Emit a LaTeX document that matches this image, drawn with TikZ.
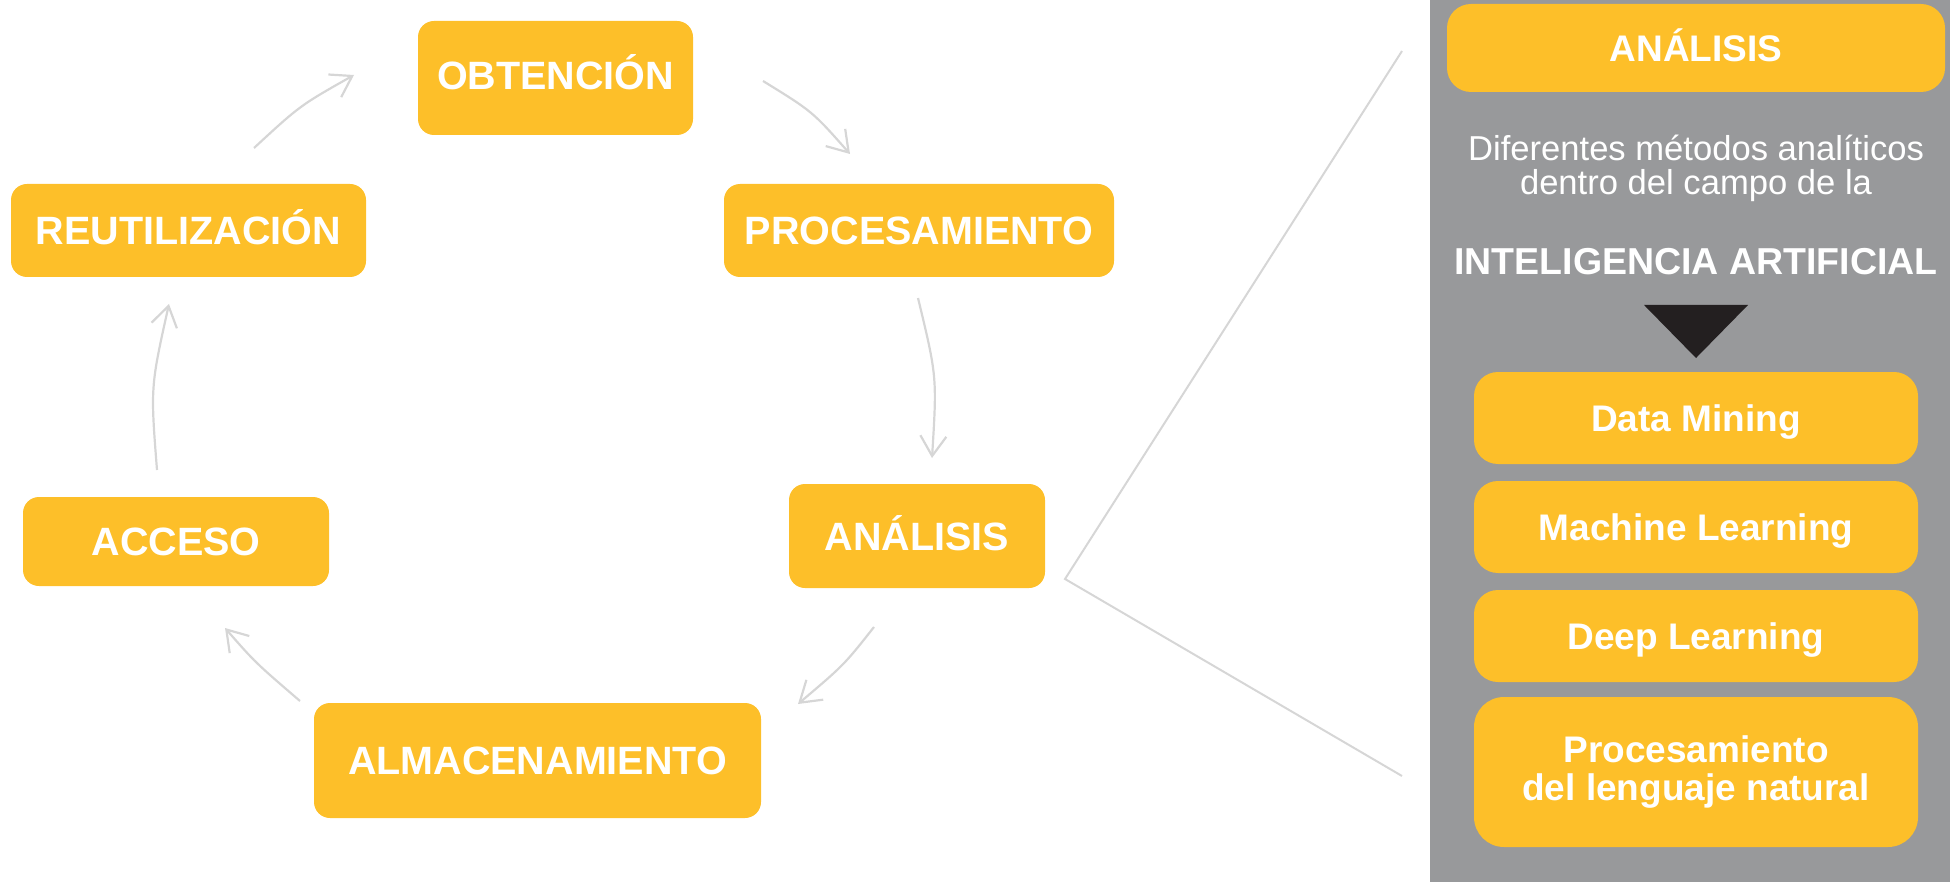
\documentclass[tikz,border=0pt]{standalone}
\usepackage{fontspec}
\setmainfont{Liberation Sans}
\usetikzlibrary{arrows.meta}
\definecolor{amber}{HTML}{FDBF29}
\definecolor{panelgray}{HTML}{98999B}
\definecolor{linegray}{HTML}{D6D6D6}
\definecolor{trifill}{HTML}{231F20}
\begin{document}
\begin{tikzpicture}[x=1pt,y=-1pt,
  stage/.style={fill=amber, rounded corners=16pt, inner sep=0pt, text=white,
    font=\fontsize{39.5}{40}\selectfont\bfseries, text height=28.5pt, text depth=0pt},
  item/.style={fill=amber, rounded corners=24pt, inner sep=0pt, text=white,
    font=\fontsize{37}{37.5}\selectfont\bfseries, minimum width=444pt, align=center},
  flow/.style={draw=linegray, line width=2.2pt, -{Straight Barb[length=20pt,width=26pt]}},
  bracket/.style={draw=linegray, line width=2pt}]
\useasboundingbox (0,0) rectangle (1950,882);
\fill[panelgray] (1430,0) rectangle (1950,882);

% cycle stages
\node[stage, minimum width=275pt, minimum height=114pt, text depth=6pt] (obt) at (555.5,78) {OBTENCIÓN};
\node[stage, minimum width=390pt, minimum height=93pt] (proc) at (919,230.5) {PROCESAMIENTO};
\node[stage, minimum width=256pt, minimum height=104pt] (anal) at (917,536) {ANÁLISIS};
\node[stage, minimum width=447pt, minimum height=115pt] (alm) at (537.5,760.5) {ALMACENAMIENTO};
\node[stage, minimum width=306pt, minimum height=89pt] (acc) at (176,541.5) {ACCESO};
\node[stage, minimum width=355pt, minimum height=93pt] (reut) at (188.5,230.5) {REUTILIZACIÓN};

% arrow end points
\coordinate (a1s) at (254,148);  \coordinate (a1e) at (354,75);
\coordinate (a2s) at (763,81);   \coordinate (a2e) at (850,154);
\coordinate (a3s) at (918,298);  \coordinate (a3e) at (932,458);
\coordinate (a4s) at (874,627);  \coordinate (a4e) at (798,704);
\coordinate (a5s) at (300,701);  \coordinate (a5e) at (225,628);
\coordinate (a6s) at (157,470);  \coordinate (a6e) at (169,304);

\draw[flow] (a1s) .. controls (300,105.5) .. (a1e);
\draw[flow] (a2s) .. controls (812.5,111.5) .. (a2e);
\draw[flow] (a3s) .. controls (937,376.7) .. (a3e);
\draw[flow] (a4s) .. controls (844,665) .. (a4e);
\draw[flow] (a5s) .. controls (255.2,662.5) .. (a5e);
\draw[flow] (a6s) .. controls (150.5,387) .. (a6e);

% bracket to panel
\coordinate (bt) at (1402,51);
\coordinate (bv) at (1065,579);
\coordinate (bb) at (1402,776);
\draw[bracket] (bt) -- (bv) -- (bb);

% right panel
\node[item, minimum width=498pt, minimum height=88pt, text height=27pt, text depth=0pt] (ptitle) at (1696,48) {ANÁLISIS};
\node[text=white, font=\fontsize{34.6}{34}\selectfont, align=center, inner sep=0pt] (pdesc) at (1696,168) {Diferentes métodos analíticos\\dentro del campo de la};
\node[text=white, font=\fontsize{37.5}{38}\selectfont\bfseries, anchor=base, inner sep=0pt] (pai) at (1696,275) {INTELIGENCIA ARTIFICIAL};
\fill[trifill] (1644,305) -- (1748,305) -- (1696,358) -- cycle;

\node[item, minimum height=92pt, text height=27pt, text depth=0pt] (dm) at (1696,418) {Data Mining};
\node[item, minimum height=92pt, text height=27pt, text depth=0pt] (ml) at (1696,527) {Machine Learning};
\node[item, minimum height=92pt, text height=27pt, text depth=0pt] (dl) at (1696,636) {Deep Learning};
\node[item, minimum height=150pt, rounded corners=30pt] (nlp) at (1696,772) {Procesamiento\\del lenguaje natural};
\end{tikzpicture}
\end{document}
